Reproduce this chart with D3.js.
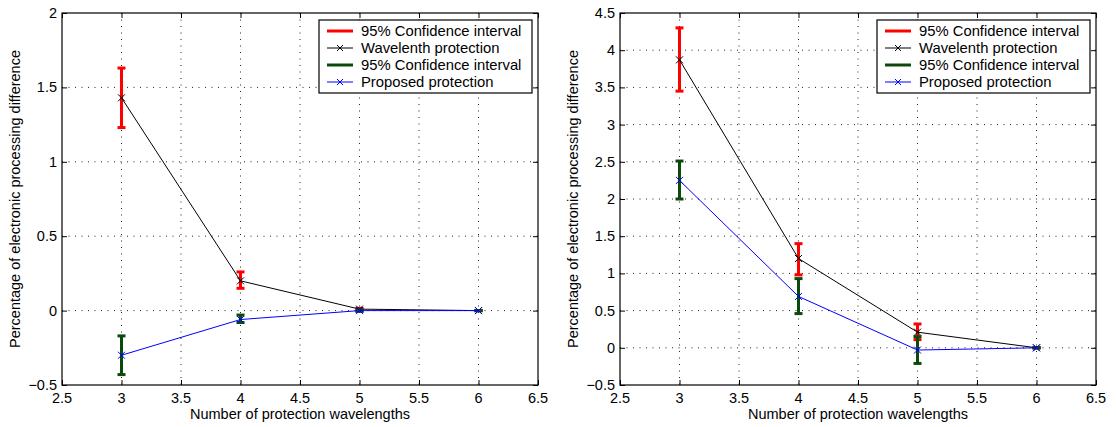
<!DOCTYPE html>
<html>
  <head>
    <meta charset="utf-8">
    <title></title>
    <style>
      body {
        margin: 0;
        background: #fff;
        font-family: "Liberation Sans", Arial, sans-serif;
      }
      svg {
        display: block;
      }
      .grid line {
        stroke: #222;
        stroke-width: 1;
        stroke-dasharray: 1,5.5;
      }
      .tick-label {
        font-size: 14.5px;
        fill: #000;
      }
      .title {
        font-size: 14.5px;
        fill: #000;
      }
      .legend text {
        font-size: 14.8px;
        fill: #000;
      }
    </style>
  </head>
  <body>
    <svg id="chart" width="1116" height="427"></svg>
    <script src="https://cdn.jsdelivr.net/npm/d3@7"></script>
    <script>

      // shared x positions and labels
      let xValues = [3, 4, 5, 6];
      let xTicks = [2.5, 3, 3.5, 4, 4.5, 5, 5.5, 6, 6.5];
      let xTitle = 'Number of protection wavelengths';
      let yTitle = 'Percentage of electronic processing difference';
      let legendLabels = ['95% Confidence interval', 'Wavelenth protection', '95% Confidence interval', 'Proposed protection'];

      // left panel
      let leftYTicks = [-0.5, 0, 0.5, 1, 1.5, 2];
      let leftWavelength = [1.43, 0.20, 0.01, 0.00];
      let leftWavelengthLow = [1.23, 0.15, 0.00, 0.00];
      let leftWavelengthHigh = [1.63, 0.26, 0.015, 0.00];
      let leftProposed = [-0.30, -0.06, 0.00, 0.00];
      let leftProposedLow = [-0.43, -0.08, -0.005, 0.00];
      let leftProposedHigh = [-0.17, -0.03, 0.005, 0.00];

      // right panel
      let rightYTicks = [-0.5, 0, 0.5, 1, 1.5, 2, 2.5, 3, 3.5, 4, 4.5];
      let rightWavelength = [3.87, 1.20, 0.21, 0.00];
      let rightWavelengthLow = [3.45, 0.98, 0.11, 0.00];
      let rightWavelengthHigh = [4.30, 1.40, 0.32, 0.00];
      let rightProposed = [2.25, 0.69, -0.03, 0.00];
      let rightProposedLow = [2.00, 0.46, -0.21, 0.00];
      let rightProposedHigh = [2.51, 0.93, 0.15, 0.00];

      let red = '#ff0000';
      let green = '#0b4a0b';
      let black = '#000000';
      let blue = '#0000ff';

      let svg = d3.select('#chart');

      function fmt(v) {
        return v < 0 ? '\u2212' + Math.abs(v) : String(v);
      }

      function drawPanel(left, yTicks, wl, wlLo, wlHi, pr, prLo, prHi) {
        let width = 476;
        let height = 372;
        let top = 13;

        let g = svg.append('g').attr('transform', 'translate(' + left + ',' + top + ')');

        let x = d3.scaleLinear().domain([2.5, 6.5]).range([0, width]);
        let y = d3.scaleLinear().domain([yTicks[0], yTicks[yTicks.length - 1]]).range([height, 0]);

        // dotted grid
        let grid = g.append('g').attr('class', 'grid');
        grid.selectAll('.gx').data(xTicks.slice(1, -1)).enter().append('line')
          .attr('x1', d => x(d)).attr('x2', d => x(d))
          .attr('y1', 0).attr('y2', height);
        grid.selectAll('.gy').data(yTicks.slice(1, -1)).enter().append('line')
          .attr('x1', 0).attr('x2', width)
          .attr('y1', d => y(d)).attr('y2', d => y(d));

        // inward ticks on all four sides
        g.append('g').attr('transform', 'translate(0,' + height + ')')
          .call(d3.axisTop(x).tickValues(xTicks).tickSize(5).tickFormat(''));
        g.append('g')
          .call(d3.axisBottom(x).tickValues(xTicks).tickSize(5).tickFormat(''));
        g.append('g')
          .call(d3.axisRight(y).tickValues(yTicks).tickSize(5).tickFormat(''));
        g.append('g').attr('transform', 'translate(' + width + ',0)')
          .call(d3.axisLeft(y).tickValues(yTicks).tickSize(5).tickFormat(''));
        g.selectAll('.domain').remove();
        g.selectAll('.tick line').attr('stroke', '#000');

        // frame
        g.append('rect')
          .attr('width', width).attr('height', height)
          .attr('fill', 'none').attr('stroke', '#000').attr('stroke-width', 1.2);

        // tick labels
        g.selectAll('.xl').data(xTicks).enter().append('text')
          .attr('class', 'tick-label')
          .attr('x', d => x(d)).attr('y', height + 18)
          .attr('text-anchor', 'middle')
          .text(d => fmt(d));
        g.selectAll('.yl').data(yTicks).enter().append('text')
          .attr('class', 'tick-label')
          .attr('x', -5).attr('y', d => y(d) + 5)
          .attr('text-anchor', 'end')
          .text(d => fmt(d));

        // axis titles
        g.append('text').attr('class', 'title')
          .attr('transform', 'translate(' + (width / 2) + ',' + (height + 34) + ')')
          .attr('text-anchor', 'middle')
          .text(xTitle);
        g.append('text').attr('class', 'title')
          .attr('transform', 'translate(-42,' + (height / 2) + ') rotate(-90)')
          .attr('text-anchor', 'middle')
          .text(yTitle);

        let line = d3.line().x((d, i) => x(xValues[i])).y(d => y(d));

        function errorBars(lo, hi, color) {
          let eb = g.append('g').attr('stroke', color).attr('stroke-width', 3).attr('fill', 'none');
          xValues.forEach((xv, i) => {
            eb.append('line')
              .attr('x1', x(xv)).attr('x2', x(xv))
              .attr('y1', y(lo[i])).attr('y2', y(hi[i]));
            [lo[i], hi[i]].forEach(v => {
              eb.append('line')
                .attr('x1', x(xv) - 4).attr('x2', x(xv) + 4)
                .attr('y1', y(v)).attr('y2', y(v));
            });
          });
        }

        function series(values, color) {
          g.append('path').datum(values)
            .attr('fill', 'none').attr('stroke', color).attr('stroke-width', 1)
            .attr('d', line);
          let m = g.append('g').attr('stroke', color).attr('stroke-width', 1);
          values.forEach((v, i) => {
            let cx = x(xValues[i]);
            let cy = y(v);
            m.append('path').attr('d', 'M' + (cx - 3.5) + ',' + (cy - 3.5) + 'L' + (cx + 3.5) + ',' + (cy + 3.5) +
              'M' + (cx - 3.5) + ',' + (cy + 3.5) + 'L' + (cx + 3.5) + ',' + (cy - 3.5));
          });
        }

        errorBars(wlLo, wlHi, red);
        series(wl, black);
        errorBars(prLo, prHi, green);
        series(pr, blue);

        // legend
        let lg = g.append('g').attr('class', 'legend').attr('transform', 'translate(' + (width - 219) + ',7)');
        lg.append('rect')
          .attr('width', 213).attr('height', 73)
          .attr('fill', '#fff').attr('stroke', '#000').attr('stroke-width', 1.2);
        let kinds = [
          {color: red, thick: true},
          {color: black, thick: false},
          {color: green, thick: true},
          {color: blue, thick: false}
        ];
        kinds.forEach((k, i) => {
          let cy = 11 + i * 17;
          lg.append('line')
            .attr('x1', 8).attr('x2', 34).attr('y1', cy).attr('y2', cy)
            .attr('stroke', k.color).attr('stroke-width', k.thick ? 3 : 1);
          if (!k.thick) {
            lg.append('path')
              .attr('d', 'M18,' + (cy - 3) + 'L24,' + (cy + 3) + 'M18,' + (cy + 3) + 'L24,' + (cy - 3))
              .attr('stroke', k.color).attr('stroke-width', 1);
          }
          lg.append('text').attr('x', 42).attr('y', cy + 5).text(legendLabels[i]);
        });
      }

      drawPanel(62, leftYTicks, leftWavelength, leftWavelengthLow, leftWavelengthHigh,
        leftProposed, leftProposedLow, leftProposedHigh);
      drawPanel(620, rightYTicks, rightWavelength, rightWavelengthLow, rightWavelengthHigh,
        rightProposed, rightProposedLow, rightProposedHigh);

    </script>
  </body>
</html>
